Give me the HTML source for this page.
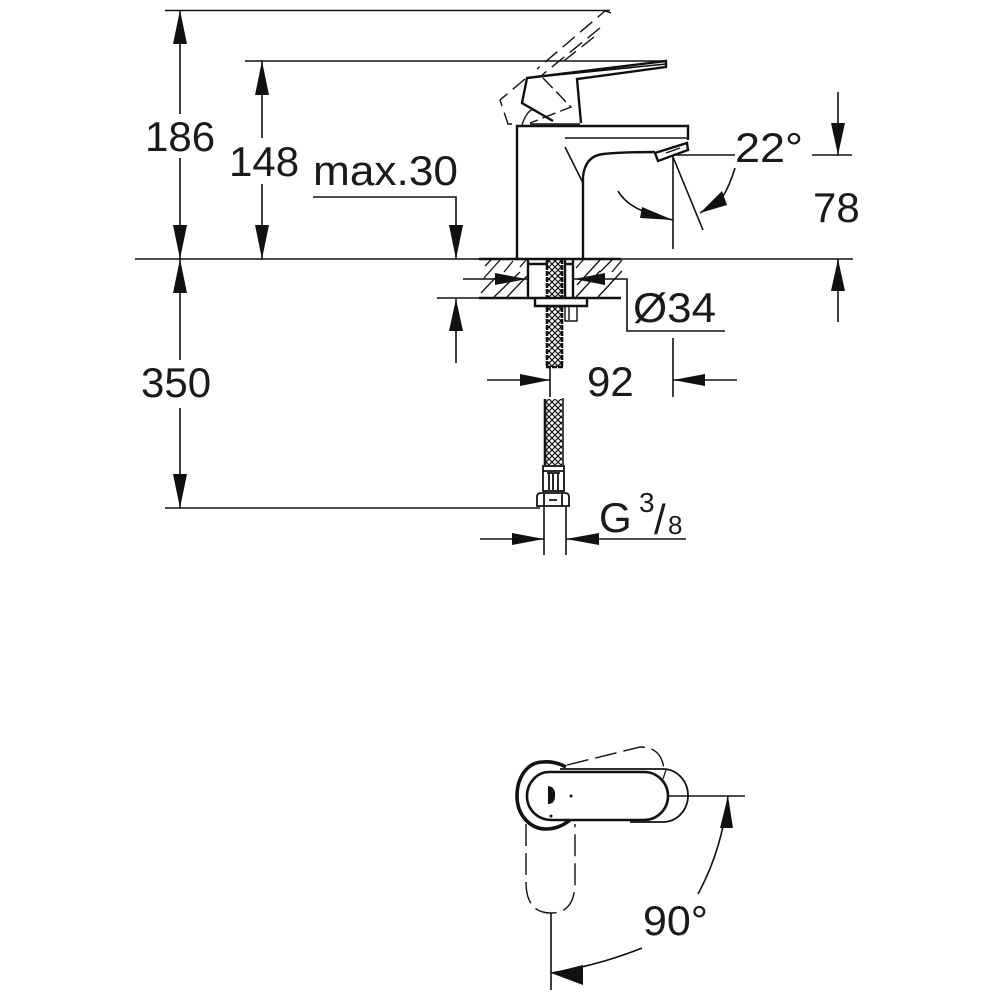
<!DOCTYPE html>
<html><head><meta charset="utf-8"><style>
html,body{margin:0;padding:0;background:#fff}
svg{display:block}
text{font-family:"Liberation Sans",sans-serif;fill:#1a1a1a}
</style></head><body>
<svg width="1000" height="1000" viewBox="0 0 1000 1000" xmlns="http://www.w3.org/2000/svg">
<defs><pattern id="br" width="6" height="6" patternUnits="userSpaceOnUse"><path d="M0 0L6 6M6 0L0 6" stroke="#111" stroke-width="1.200"/></pattern></defs>
<rect width="1000" height="1000" fill="#fff"/>
<!-- thin lines -->
<g fill="none" stroke="#111" stroke-width="1.600">
<path d="M165 10.500H610M245 61H667M135 259H853M165 508H540"/>
<path d="M180 10V114M180 158V259M180 259V360M180 408V508M262 61V138M262 184V259"/>
<path d="M313 197H456V259"/>
<path d="M838 92V155M812 155H852M838 259V322"/>
<path d="M673 155H735M673 155V249M673 157L703 230"/>
<path d="M618 191Q630 212 673 220M700 213L722 198Q730 185 735 168"/>
<path d="M463 279H527M574 279H627V331H725"/>
<path d="M437 298H479M456 299V363"/>
<path d="M550 367V397M673 338V397M487 380H550M673 380H737"/>
<path d="M480 539H544M566 539H686M544 507V555M566 507V555"/>
<path d="M668 796H745"/>
<path d="M551 913V990M551 973Q600 965 642 948M728 796Q722 850 698 894"/>
<path d="M565 138H688M565 147L583 183"/>
</g>
<!-- arrowheads -->
<g fill="#111">
<path d="M180 10L173 44H187ZM180 259L173 225H187ZM180 259L173 293H187ZM180 508L173 474H187Z"/>
<path d="M262 61L255 95H269ZM262 259L255 225H269Z"/>
<path d="M456 259L449 225H463ZM456 299L449 331H463Z"/>
<path d="M838 155L831 123H845ZM838 259L831 291H845Z"/>
<path d="M673 220L642 207L640 218ZM700 213L722 191L727 205Z"/>
<path d="M527 279L495 273V285ZM574 279L605 273V285Z"/>
<path d="M550 380L520 374V386ZM673 380L705 374V386Z"/>
<path d="M544 539L512 533V545ZM566 539L599 533V545Z"/>
<path d="M551 973L583 965V985ZM728 796L720 828H733Z"/>
</g>
<!-- faucet -->
<g fill="none" stroke="#111" stroke-width="2.400">
<path d="M517 259V126H688V140"/>
<path d="M583 259V177Q585 156 603 154Q625 152 655 152"/>
<path d="M655 153L687 143L688 150L658 161Z"/>
<path d="M666 153L680 148" stroke-width="1.400"/>
<path d="M581 123L577 79L666 67V61L527 78L522 103L553 121"/>
<path d="M527 78L666 64" stroke-width="1.600"/>
<path d="M522 125Q526 112 533 109M530 124H580" stroke-width="1.400"/>
</g>
<g fill="none" stroke="#111" stroke-width="1.400" stroke-dasharray="16 7">
<path d="M611 13L605 11L537 69"/>
<path d="M600 28L542 75"/>
<path d="M594 37L560 64"/>
<path d="M525 79L500 100L508 124L519 124"/>
<path d="M543 78L571 107L530 123" stroke-dasharray="14 5"/>
</g>
<!-- counter hatch -->
<g fill="none" stroke="#111" stroke-width="1.300">
<path d="M485 266L491 260M484 278L500 260M504 272L513 261M520 267L526 260M481 293L497 276M494 297L520 272M507 297L527 276M576 268L584 259M577 285L600 260M600 272L612 260M612 272L622 260M576 297L600 271M598 297L622 271"/>
</g>
<path d="M479 298H621" stroke="#111" stroke-width="2.400" fill="none"/>
<path d="M479 259H621" stroke="#111" stroke-width="2.400" fill="none"/>
<!-- mount -->
<g fill="none" stroke="#111" stroke-width="2.400">
<path d="M528 259V298M573 259V298M528 264H548M564 264H573M565 259V298"/>
<path d="M535 298V306H587V298"/>
</g>
<path d="M565 307V321H577V307M569 307V320" fill="none" stroke="#111" stroke-width="1.400"/>
<rect x="548" y="259" width="14" height="39" fill="url(#br)"/>
<rect x="548" y="307" width="14" height="60" fill="url(#br)"/>
<path d="M547 259V298M547 307V366M562 259V298M562 307V366M546 367H563" fill="none" stroke="#111" stroke-width="2.600" stroke-dasharray="5 1"/>
<!-- lower hose -->
<rect x="545" y="399" width="17" height="66" fill="url(#br)"/>
<path d="M545 399V465" fill="none" stroke="#111" stroke-width="2.600"/>
<path d="M563 398V465" fill="none" stroke="#111" stroke-width="1.600"/>
<g fill="none" stroke="#111" stroke-width="1.800">
<rect x="543" y="466" width="21" height="25"/>
<path d="M547 473H560M549 473V490M553 473V490M558 473V490M543 471H564"/>
<path d="M537 506V497Q537 493 541 493H565Q569 493 569 497V506ZM544 494V506M562 494V506M549 500H557"/>
</g>
<!-- top view -->
<g fill="none" stroke="#111">
<path d="M566 767Q555 761 543 762C527 762 517 778 517 796C517 815 530 829 546 829Q559 829 570 820" stroke-width="3.600"/>
<path d="M549 772H644A24 24 0 0 1 644 820H552C537 820 527 809 527 796C527 783 537 772 549 772Z" stroke-width="2.600"/>
<path d="M560 769H663A25 26.500 0 0 1 663 822H630" stroke-width="1.800"/>
<path d="M663 779L666 770" stroke-width="1.200"/>
<path d="M567 765L640 747Q662 747 664 770" stroke-width="1.400" stroke-dasharray="22 7"/>
<path d="M526 824V882Q526 913 551 913Q575 913 575 882V824" stroke-width="1.400" stroke-dasharray="22 7"/>
</g>
<path d="M548 786Q556 787 555 796Q555 804 548 804Z" fill="#111"/>
<circle cx="571" cy="796" r="1.500" fill="#111"/>
<circle cx="551" cy="816" r="1.500" fill="#111"/>
<!-- labels -->
<g font-size="42">
<text x="145" y="151">186</text>
<text x="229" y="176">148</text>
<text x="313" y="185" textLength="145" lengthAdjust="spacingAndGlyphs">max.30</text>
<text x="735" y="162" textLength="68" lengthAdjust="spacingAndGlyphs">22°</text>
<text x="813" y="222">78</text>
<text x="633" y="322" textLength="83" lengthAdjust="spacingAndGlyphs">Ø34</text>
<text x="141" y="397">350</text>
<text x="587" y="396">92</text>
<text x="599" y="532">G</text>
<text x="643" y="935" textLength="65" lengthAdjust="spacingAndGlyphs">90°</text>
</g>
<text x="639" y="512" font-size="28">3</text>
<text x="654" y="534" font-size="42">/</text>
<text x="668" y="534" font-size="26">8</text>
</svg>
</body></html>
